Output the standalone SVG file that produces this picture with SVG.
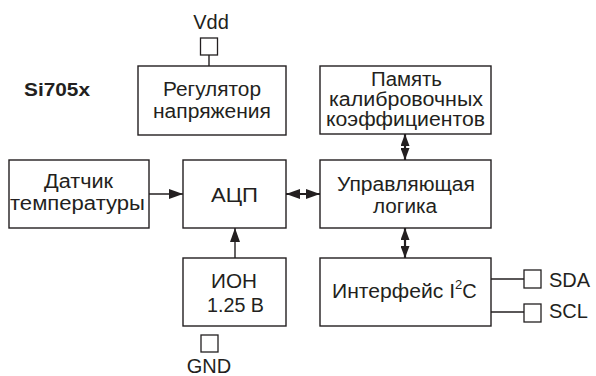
<svg xmlns="http://www.w3.org/2000/svg" width="596" height="376" viewBox="0 0 596 376">
<style>
.box{fill:#fff;stroke:#231f20;stroke-width:1.4}
.pad{fill:#fff;stroke:#231f20;stroke-width:1.3}
.t{font-family:"Liberation Sans",Arial,sans-serif;font-size:20px;fill:#231f20;text-anchor:middle}
.ts{font-family:"Liberation Sans",Arial,sans-serif;font-size:20px;fill:#231f20}
.ln{stroke:#231f20;stroke-width:1.4;fill:none}
.th{stroke:#231f20;stroke-width:2.2;fill:none}
</style>
<defs>
<marker id="ah" markerUnits="userSpaceOnUse" viewBox="0 0 14 10" markerWidth="14" markerHeight="10" refX="14" refY="5" orient="auto-start-reverse">
<path d="M0,0 L14,5 L0,10 z" fill="#231f20"/>
</marker>
<marker id="ahs" markerUnits="userSpaceOnUse" viewBox="0 0 12 9" markerWidth="12" markerHeight="9" refX="12" refY="4.5" orient="auto-start-reverse">
<path d="M0,0 L12,4.5 L0,9 z" fill="#231f20"/>
</marker>
</defs>
<text x="24" y="96" textLength="66" lengthAdjust="spacingAndGlyphs" style="font-family:'Liberation Sans',Arial,sans-serif;font-size:19px;font-weight:bold;fill:#231f20">Si705x</text>
<g id="connectors">
<path class="ln" d="M209,55 L209,66"/>
<path class="ln" d="M149,194 L183,194" marker-end="url(#ah)"/>
<path class="ln" d="M235,258 L235,228" marker-end="url(#ah)"/>
<path class="th" d="M286,194 L320,194" marker-start="url(#ah)" marker-end="url(#ah)"/>
<path class="th" d="M405,134 L405,160" marker-start="url(#ahs)" marker-end="url(#ahs)"/>
<path class="th" d="M405,228 L405,258" marker-start="url(#ahs)" marker-end="url(#ahs)"/>
<path class="ln" d="M491,279 L524,279"/>
<path class="ln" d="M491,312 L524,312"/>
</g>
<g id="vdd">
<rect class="pad" x="200.5" y="38" width="17" height="17"/>
<text class="t" x="211" y="29">Vdd</text>
</g>
<g id="regulator">
<rect class="box" x="138" y="66" width="148" height="69"/>
<text class="t" x="212" y="96" textLength="98" lengthAdjust="spacingAndGlyphs">Регулятор</text>
<text class="t" x="212" y="118" textLength="118" lengthAdjust="spacingAndGlyphs">напряжения</text>
</g>
<g id="memory">
<rect class="box" x="320" y="66" width="171" height="68"/>
<text class="t" x="406.5" y="86" textLength="71" lengthAdjust="spacingAndGlyphs">Память</text>
<text class="t" x="406" y="106" textLength="154" lengthAdjust="spacingAndGlyphs">калибровочных</text>
<text class="t" x="405.5" y="126" textLength="159" lengthAdjust="spacingAndGlyphs">коэффициентов</text>
</g>
<g id="sensor">
<rect class="box" x="9" y="160" width="140" height="68"/>
<text class="t" x="78.5" y="188" textLength="69" lengthAdjust="spacingAndGlyphs">Датчик</text>
<text class="t" x="77.5" y="210" textLength="135" lengthAdjust="spacingAndGlyphs">температуры</text>
</g>
<g id="adc">
<rect class="box" x="183" y="160" width="103" height="68"/>
<text class="t" x="234.5" y="202" textLength="47" lengthAdjust="spacingAndGlyphs">АЦП</text>
</g>
<g id="logic">
<rect class="box" x="320" y="160" width="171" height="68"/>
<text class="t" x="406" y="191" textLength="138" lengthAdjust="spacingAndGlyphs">Управляющая</text>
<text class="t" x="405" y="213" textLength="64" lengthAdjust="spacingAndGlyphs">логика</text>
</g>
<g id="ion">
<rect class="box" x="183" y="258" width="103" height="68"/>
<text class="t" x="234" y="288" textLength="46" lengthAdjust="spacingAndGlyphs">ИОН</text>
<text class="t" x="235.5" y="312" textLength="57" lengthAdjust="spacingAndGlyphs">1.25 В</text>
</g>
<g id="gnd">
<rect class="pad" x="201" y="335" width="17" height="17"/>
<text class="t" x="209" y="373">GND</text>
</g>
<g id="i2c">
<rect class="box" x="320" y="258" width="171" height="68"/>
<text class="ts" x="332" y="298"><tspan textLength="123" lengthAdjust="spacingAndGlyphs">Интерфейс I</tspan><tspan dy="-9" font-size="13">2</tspan><tspan dy="9">C</tspan></text>
</g>
<g id="sda">
<rect class="pad" x="524" y="270" width="17" height="18"/>
<text class="ts" x="549" y="287">SDA</text>
</g>
<g id="scl">
<rect class="pad" x="524" y="304" width="17" height="18"/>
<text class="ts" x="549" y="318">SCL</text>
</g>
</svg>
